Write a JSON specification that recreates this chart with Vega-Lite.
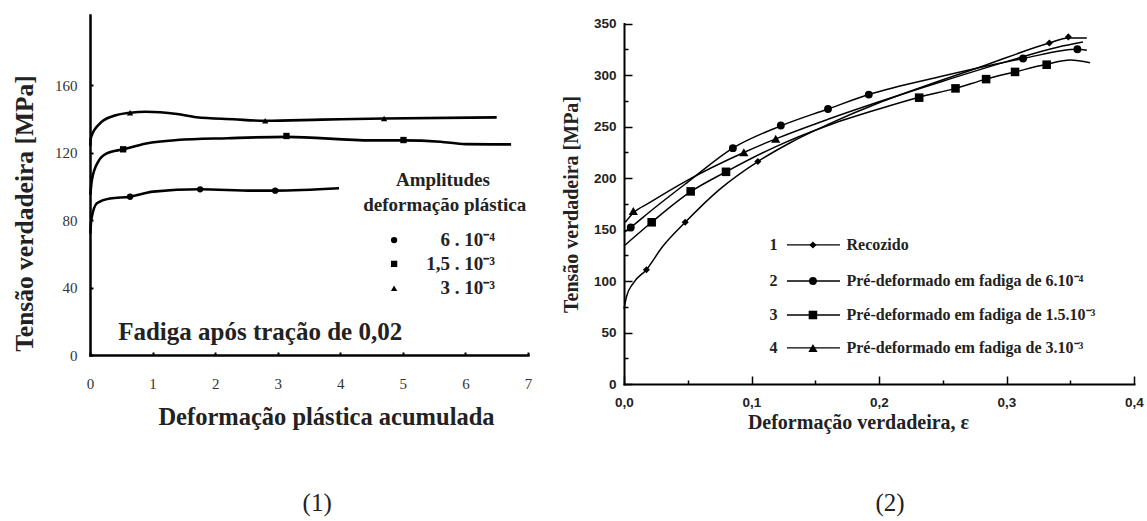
{
  "$schema": "https://vega.github.io/schema/vega-lite/v6.json",
  "width": 1147,
  "height": 521,
  "padding": 0,
  "autosize": {"type": "none"},
  "background": "white",
  "config": {
    "view": {"stroke": null},
    "axis": {"grid": false, "labelOverlap": false, "labelBound": false, "labelFlush": false, "domainColor": "black", "tickColor": "black", "domainCap": "square"}
  },
  "datasets": {
    "left_curves": [
      {"series": "a", "x": 0.005, "y": 72}, {"series": "a", "x": 0.02, "y": 80}, {"series": "a", "x": 0.11, "y": 89.9}, {"series": "a", "x": 0.32, "y": 92.8}, {"series": "a", "x": 0.64, "y": 93.8}, {"series": "a", "x": 1.01, "y": 96.8}, {"series": "a", "x": 1.76, "y": 98.2}, {"series": "a", "x": 2.61, "y": 97.4}, {"series": "a", "x": 2.96, "y": 97.4}, {"series": "a", "x": 3.98, "y": 98.8},
      {"series": "b", "x": 0.005, "y": 95}, {"series": "b", "x": 0.03, "y": 103.7}, {"series": "b", "x": 0.13, "y": 114.5}, {"series": "b", "x": 0.27, "y": 119.5}, {"series": "b", "x": 0.53, "y": 121.9}, {"series": "b", "x": 0.9, "y": 125.4}, {"series": "b", "x": 1.39, "y": 127.4}, {"series": "b", "x": 2.2, "y": 128.5}, {"series": "b", "x": 3.14, "y": 129.3}, {"series": "b", "x": 4.5, "y": 127.2}, {"series": "b", "x": 5.0, "y": 127.2}, {"series": "b", "x": 5.6, "y": 126.4}, {"series": "b", "x": 6.0, "y": 125}, {"series": "b", "x": 6.73, "y": 124.8},
      {"series": "c", "x": 0.005, "y": 124}, {"series": "c", "x": 0.016, "y": 129}, {"series": "c", "x": 0.16, "y": 137.3}, {"series": "c", "x": 0.37, "y": 141.6}, {"series": "c", "x": 0.64, "y": 143.6}, {"series": "c", "x": 0.9, "y": 144.2}, {"series": "c", "x": 1.39, "y": 142.8}, {"series": "c", "x": 1.7, "y": 140.9}, {"series": "c", "x": 2.29, "y": 139.7}, {"series": "c", "x": 2.8, "y": 138.8}, {"series": "c", "x": 3.7, "y": 139.5}, {"series": "c", "x": 4.7, "y": 140.2}, {"series": "c", "x": 6.5, "y": 140.8}
    ],
    "left_markers": [
      {"series": "a", "x": 0.64, "y": 93.8}, {"series": "a", "x": 1.76, "y": 98.2}, {"series": "a", "x": 2.96, "y": 97.4},
      {"series": "b", "x": 0.53, "y": 121.9}, {"series": "b", "x": 3.14, "y": 129.8}, {"series": "b", "x": 5.01, "y": 127.4},
      {"series": "c", "x": 0.64, "y": 143.6}, {"series": "c", "x": 2.8, "y": 138.8}, {"series": "c", "x": 4.7, "y": 140.2},
      {"series": "a", "x": 4.86, "y": 68.1}, {"series": "b", "x": 4.86, "y": 54.0}, {"series": "c", "x": 4.86, "y": 39.6}
    ],
    "left_legend_vals": [
      {"x": 6.47, "y": 68.1, "t": "6 . 10⁻⁴"},
      {"x": 6.47, "y": 54.0, "t": "1,5 . 10⁻³"},
      {"x": 6.47, "y": 39.6, "t": "3 . 10⁻³"}
    ],
    "left_legend_head": [
      {"x": 5.64, "y": 103.7, "t": "Amplitudes"},
      {"x": 5.67, "y": 88.9, "t": "deformação plástica"}
    ],
    "left_note": [
      {"x": 2.72, "y": 13.8, "t": "Fadiga após tração de 0,02"}
    ],
    "left_caption": [
      {"x": 3.63, "y": -87.7, "t": "(1)"}
    ],
    "right_curves": [
      {"series": "R1", "x": 0, "y": 73}, {"series": "R1", "x": 0.002, "y": 85}, {"series": "R1", "x": 0.0073, "y": 98}, {"series": "R1", "x": 0.0176, "y": 111}, {"series": "R1", "x": 0.03, "y": 133}, {"series": "R1", "x": 0.048, "y": 157}, {"series": "R1", "x": 0.075, "y": 189}, {"series": "R1", "x": 0.105, "y": 216}, {"series": "R1", "x": 0.13, "y": 234}, {"series": "R1", "x": 0.16, "y": 252}, {"series": "R1", "x": 0.2, "y": 273}, {"series": "R1", "x": 0.24, "y": 291}, {"series": "R1", "x": 0.28, "y": 308}, {"series": "R1", "x": 0.3336, "y": 331}, {"series": "R1", "x": 0.3485, "y": 336}, {"series": "R1", "x": 0.363, "y": 336},
      {"series": "R2", "x": 0, "y": 147}, {"series": "R2", "x": 0.0053, "y": 152}, {"series": "R2", "x": 0.02, "y": 167}, {"series": "R2", "x": 0.05, "y": 196}, {"series": "R2", "x": 0.0854, "y": 229}, {"series": "R2", "x": 0.123, "y": 250.6}, {"series": "R2", "x": 0.16, "y": 267}, {"series": "R2", "x": 0.192, "y": 281}, {"series": "R2", "x": 0.25, "y": 299}, {"series": "R2", "x": 0.313, "y": 316}, {"series": "R2", "x": 0.3556, "y": 325}, {"series": "R2", "x": 0.363, "y": 324},
      {"series": "R3", "x": 0, "y": 134}, {"series": "R3", "x": 0.0217, "y": 157}, {"series": "R3", "x": 0.0523, "y": 186.7}, {"series": "R3", "x": 0.08, "y": 206}, {"series": "R3", "x": 0.12, "y": 231}, {"series": "R3", "x": 0.16, "y": 251}, {"series": "R3", "x": 0.2, "y": 267}, {"series": "R3", "x": 0.2315, "y": 278.4}, {"series": "R3", "x": 0.26, "y": 287}, {"series": "R3", "x": 0.284, "y": 296}, {"series": "R3", "x": 0.3067, "y": 303}, {"series": "R3", "x": 0.3315, "y": 310.4}, {"series": "R3", "x": 0.35, "y": 314.5}, {"series": "R3", "x": 0.3655, "y": 312},
      {"series": "R4", "x": 0.001, "y": 157}, {"series": "R4", "x": 0.0073, "y": 166}, {"series": "R4", "x": 0.02, "y": 176}, {"series": "R4", "x": 0.05, "y": 198}, {"series": "R4", "x": 0.094, "y": 224.8}, {"series": "R4", "x": 0.119, "y": 238}, {"series": "R4", "x": 0.16, "y": 257}, {"series": "R4", "x": 0.2, "y": 274}, {"series": "R4", "x": 0.25, "y": 294}, {"series": "R4", "x": 0.3, "y": 313}, {"series": "R4", "x": 0.34, "y": 327}, {"series": "R4", "x": 0.36, "y": 332}
    ],
    "right_markers": [
      {"series": "R1", "x": 0.0176, "y": 111}, {"series": "R1", "x": 0.048, "y": 157}, {"series": "R1", "x": 0.105, "y": 216}, {"series": "R1", "x": 0.3336, "y": 331}, {"series": "R1", "x": 0.3485, "y": 337},
      {"series": "R2", "x": 0.0053, "y": 152}, {"series": "R2", "x": 0.0854, "y": 229}, {"series": "R2", "x": 0.123, "y": 251}, {"series": "R2", "x": 0.16, "y": 267}, {"series": "R2", "x": 0.192, "y": 281}, {"series": "R2", "x": 0.313, "y": 316}, {"series": "R2", "x": 0.3556, "y": 325},
      {"series": "R3", "x": 0.0217, "y": 157}, {"series": "R3", "x": 0.0523, "y": 187}, {"series": "R3", "x": 0.08, "y": 206}, {"series": "R3", "x": 0.2315, "y": 278}, {"series": "R3", "x": 0.26, "y": 287}, {"series": "R3", "x": 0.284, "y": 296}, {"series": "R3", "x": 0.3067, "y": 303}, {"series": "R3", "x": 0.3315, "y": 310},
      {"series": "R4", "x": 0.0073, "y": 168}, {"series": "R4", "x": 0.094, "y": 225}, {"series": "R4", "x": 0.119, "y": 238},
      {"series": "R1", "x": 0.1482, "y": 135}, {"series": "R2", "x": 0.1482, "y": 100}, {"series": "R3", "x": 0.1482, "y": 67}, {"series": "R4", "x": 0.1482, "y": 35}
    ],
    "right_legend_rules": [
      {"x": 0.1278, "x2": 0.1694, "y": 135}, {"x": 0.1278, "x2": 0.1694, "y": 100}, {"x": 0.1278, "x2": 0.1694, "y": 67}, {"x": 0.1278, "x2": 0.1694, "y": 35}
    ],
    "right_legend_nums": [
      {"x": 0.1172, "y": 135, "t": "1"}, {"x": 0.1172, "y": 100, "t": "2"}, {"x": 0.1172, "y": 67, "t": "3"}, {"x": 0.1172, "y": 35, "t": "4"}
    ],
    "right_legend_text": [
      {"x": 0.1745, "y": 135, "t": "Recozido"},
      {"x": 0.1745, "y": 100, "t": "Pré-deformado em fadiga de 6.10⁻⁴"},
      {"x": 0.1745, "y": 67, "t": "Pré-deformado em fadiga de 1.5.10⁻³"},
      {"x": 0.1745, "y": 35, "t": "Pré-deformado em fadiga de 3.10⁻³"}
    ],
    "right_caption": [
      {"x": 0.2086, "y": -115.5, "t": "(2)"}
    ]
  },
  "layer": [
    {
      "encoding": {
        "x": {
          "field": "x", "type": "quantitative",
          "scale": {"domain": [0, 7], "range": [90, 528], "nice": false, "zero": false},
          "axis": {
            "orient": "bottom", "offset": -166, "values": [0, 1, 2, 3, 4, 5, 6, 7], "format": "d",
            "domainWidth": 2.5, "tickSize": -3, "tickWidth": 2,
            "labelFont": "Liberation Serif", "labelFontSize": 15, "labelColor": "#333", "labelPadding": 24,
            "title": "Deformação plástica acumulada", "titleFont": "Liberation Serif", "titleFontSize": 24.5, "titleFontWeight": "bold", "titleColor": "#222",
            "titleX": 326, "titleY": 62, "titleAlign": "center", "titleBaseline": "middle"
          }
        },
        "y": {
          "field": "y", "type": "quantitative",
          "scale": {"domain": [0, 201.5], "range": [355, 15], "nice": false, "zero": false},
          "axis": {
            "orient": "left", "offset": -90, "values": [0, 40, 80, 120, 160],
            "domainWidth": 2.5, "tickSize": -3, "tickWidth": 2,
            "labelFont": "Liberation Serif", "labelFontSize": 15, "labelColor": "#333", "labelPadding": 16,
            "title": "Tensão verdadeira [MPa]", "titleFont": "Liberation Serif", "titleFontSize": 25.5, "titleFontWeight": "bold", "titleColor": "#222",
            "titleX": -66, "titleY": 213, "titleAngle": -90, "titleAlign": "center", "titleBaseline": "middle"
          }
        }
      },
      "layer": [
        {"data": {"name": "left_curves"}, "mark": {"type": "line", "interpolate": "monotone", "color": "black", "strokeWidth": 2.6}, "encoding": {"detail": {"field": "series"}}},
        {"data": {"name": "left_markers"}, "mark": {"type": "point", "filled": true, "color": "black", "opacity": 1, "size": 40},
          "encoding": {"shape": {"field": "series", "type": "nominal", "scale": {"domain": ["a", "b", "c"], "range": ["circle", "square", "triangle-up"]}, "legend": null}}},
        {"data": {"name": "left_legend_vals"}, "mark": {"type": "text", "font": "Liberation Serif", "fontWeight": "bold", "fontSize": 19, "align": "right", "baseline": "middle", "color": "#222"}, "encoding": {"text": {"field": "t"}}},
        {"data": {"name": "left_legend_head"}, "mark": {"type": "text", "font": "Liberation Serif", "fontWeight": "bold", "fontSize": 19, "align": "center", "baseline": "middle", "color": "#222"}, "encoding": {"text": {"field": "t"}}},
        {"data": {"name": "left_note"}, "mark": {"type": "text", "font": "Liberation Serif", "fontWeight": "bold", "fontSize": 25, "align": "center", "baseline": "middle", "color": "#222"}, "encoding": {"text": {"field": "t"}}},
        {"data": {"name": "left_caption"}, "mark": {"type": "text", "font": "Liberation Serif", "fontSize": 25, "align": "center", "baseline": "middle", "color": "#222"}, "encoding": {"text": {"field": "t"}}}
      ]
    },
    {
      "encoding": {
        "x": {
          "field": "x", "type": "quantitative",
          "scale": {"domain": [0, 0.4], "range": [624, 1134], "nice": false, "zero": false},
          "axis": {
            "orient": "bottom", "offset": -137, "values": [0, 0.05, 0.1, 0.15, 0.2, 0.25, 0.3, 0.35, 0.4],
            "labelExpr": "round(datum.value * 100) % 10 === 0 ? replace(format(datum.value, '.1f'), '.', ',') : ''",
            "domainWidth": 2, "tickWidth": 1.5,
            "tickSize": {"condition": {"test": "round(datum.value * 100) % 10 === 0", "value": -8}, "value": -4},
            "labelFont": "Liberation Sans", "labelFontWeight": "bold", "labelFontSize": 13.5, "labelColor": "#222", "labelPadding": 19,
            "title": "Deformação verdadeira, ε", "titleFont": "Liberation Serif", "titleFontSize": 20, "titleFontWeight": "bold", "titleColor": "#222",
            "titleX": 858, "titleY": 38, "titleAlign": "center", "titleBaseline": "middle"
          }
        },
        "y": {
          "field": "y", "type": "quantitative",
          "scale": {"domain": [0, 350], "range": [384, 23.5], "nice": false, "zero": false},
          "axis": {
            "orient": "left", "offset": -624, "values": [0, 25, 50, 75, 100, 125, 150, 175, 200, 225, 250, 275, 300, 325, 350],
            "labelExpr": "datum.value % 50 === 0 ? datum.label : ''",
            "domainWidth": 2, "tickWidth": 1.5,
            "tickSize": {"condition": {"test": "datum.value % 50 === 0", "value": -8}, "value": -4},
            "labelFont": "Liberation Sans", "labelFontWeight": "bold", "labelFontSize": 13.5, "labelColor": "#222", "labelPadding": 16,
            "title": "Tensão verdadeira [MPa]", "titleFont": "Liberation Serif", "titleFontSize": 20, "titleFontWeight": "bold", "titleColor": "#222",
            "titleX": -53, "titleY": 204, "titleAngle": -90, "titleAlign": "center", "titleBaseline": "middle"
          }
        }
      },
      "layer": [
        {"data": {"name": "right_curves"}, "mark": {"type": "line", "interpolate": "monotone", "color": "black", "strokeWidth": 1.5}, "encoding": {"detail": {"field": "series"}}},
        {"data": {"name": "right_legend_rules"}, "mark": {"type": "rule", "color": "black", "strokeWidth": 1.3}, "encoding": {"x2": {"field": "x2"}}},
        {"data": {"name": "right_markers"}, "mark": {"type": "point", "filled": true, "color": "black", "opacity": 1},
          "encoding": {
            "shape": {"field": "series", "type": "nominal", "scale": {"domain": ["R1", "R2", "R3", "R4"], "range": ["diamond", "circle", "square", "triangle-up"]}, "legend": null},
            "size": {"field": "series", "type": "nominal", "scale": {"domain": ["R1", "R2", "R3", "R4"], "range": [50, 85, 100, 80]}, "legend": null}
          }},
        {"data": {"name": "right_legend_nums"}, "mark": {"type": "text", "font": "Liberation Serif", "fontWeight": "bold", "fontSize": 16, "align": "center", "baseline": "middle", "color": "#222"}, "encoding": {"text": {"field": "t"}}},
        {"data": {"name": "right_legend_text"}, "mark": {"type": "text", "font": "Liberation Serif", "fontWeight": "bold", "fontSize": 16, "align": "left", "baseline": "middle", "color": "#222"}, "encoding": {"text": {"field": "t"}}},
        {"data": {"name": "right_caption"}, "mark": {"type": "text", "font": "Liberation Serif", "fontSize": 25, "align": "center", "baseline": "middle", "color": "#222"}, "encoding": {"text": {"field": "t"}}}
      ]
    }
  ],
  "resolve": {
    "scale": {"x": "independent", "y": "independent", "shape": "independent"},
    "axis": {"x": "independent", "y": "independent"}
  }
}
